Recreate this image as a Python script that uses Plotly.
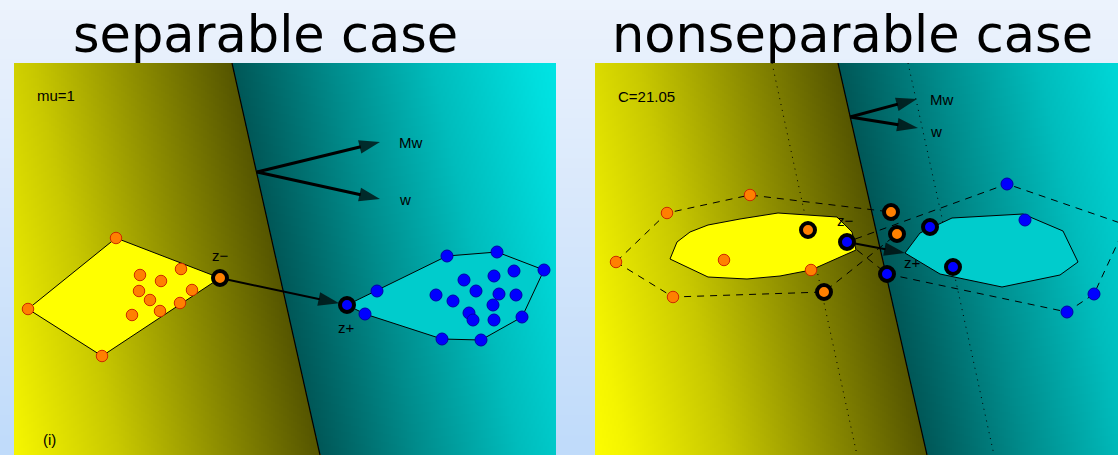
import numpy as np
import plotly.graph_objects as go

W, H = 1118, 455

# ---------------- panel 1: separable case ----------------
sep_neg_u = [1.02, 0.14, 0.88, 1.67, 1.26, 1.47, 1.25, 1.78, 1.36, 1.66, 1.46, 1.18]
sep_neg_v = [2.17, 1.46, 0.99, 1.86, 1.80, 1.74, 1.64, 1.65, 1.55, 1.52, 1.44, 1.40]
sep_pos_u = [3.63, 3.51, 4.33, 4.83, 5.30, 5.08, 4.67, 4.28, 4.50, 4.80, 5.00,
             4.22, 4.39, 4.62, 4.85, 5.02, 4.79, 4.55, 4.59, 4.80]
sep_pos_v = [1.64, 1.41, 1.99, 2.03, 1.85, 1.38, 1.15, 1.16, 1.75, 1.79, 1.84,
             1.60, 1.54, 1.64, 1.61, 1.60, 1.50, 1.42, 1.35, 1.35]
sep_zminus = [2.06, 1.77]
sep_zplus = [3.33, 1.50]
sep_boundary_u = [2.18, 3.06]          # boundary crossing at top / bottom of view
sep_w_origin = [2.43, 2.83]
sep_Mw_tip = [3.66, 3.13]
sep_w_tip = [3.66, 2.56]
sep_view = [5.42, 3.92]

# ---------------- panel 2: nonseparable case ----------------
non_neg_u = [1.55, 0.72, 0.21, 0.78, 1.29, 2.16]
non_neg_v = [2.60, 2.42, 1.93, 1.58, 1.95, 1.85]
non_neg_sv_u = [2.13, 2.29, 2.96, 3.02]
non_neg_sv_v = [2.25, 1.63, 2.43, 2.21]
non_pos_u = [4.12, 4.30, 4.99, 4.72, 5.31]
non_pos_v = [2.71, 2.35, 1.61, 1.43, 2.30]
non_pos_sv_u = [2.52, 2.92, 3.35, 3.58]
non_pos_sv_v = [2.13, 1.81, 2.28, 1.88]
rch_neg_u = [0.75, 0.82, 0.95, 1.13, 1.45, 1.83, 2.42, 2.57, 2.61, 2.16, 1.85, 1.52, 1.13]
rch_neg_v = [1.96, 2.13, 2.23, 2.30, 2.36, 2.42, 2.38, 2.23, 2.05, 1.85, 1.79, 1.76, 1.78]
rch_pos_u = [3.10, 3.25, 3.57, 4.28, 4.68, 4.83, 4.65, 4.07, 3.45]
rch_pos_v = [2.02, 2.22, 2.37, 2.41, 2.24, 1.93, 1.80, 1.68, 1.81]
non_zminus = [2.52, 2.13]
non_zplus = [3.10, 2.02]
non_boundary_u = [2.43, 3.32]
non_margin_lo_u = [1.77, 2.62]
non_margin_hi_u = [3.13, 3.99]
non_w_origin = [2.55, 3.38]
non_Mw_tip = [3.22, 3.56]
non_w_tip = [3.23, 3.27]
non_view = [5.23, 3.92]

ORANGE, ORANGE_EDGE = "#ff8000", "#cc2a00"
BLUE, BLUE_EDGE = "#0000ff", "#0000a8"

# decision-value colour map: yellow side -> dark olive | dark teal -> cyan side
ZLIM = 3.4
stops = [(-3.4, "#ffff00"), (-3.0, "#f4f400"), (-2.0, "#c8c800"), (-1.0, "#8e8e00"),
         (0.0, "#555500"), (0.0001, "#005757"), (1.0, "#008c8c"), (2.0, "#00bcbc"),
         (3.0, "#00dede"), (3.4, "#00e8e8")]
colorscale = [[(z + ZLIM) / (2 * ZLIM), c] for z, c in stops]


def convex_hull(us, vs):
    pts = sorted(set(zip(us, vs)))

    def cross(o, a, b):
        return (a[0] - o[0]) * (b[1] - o[1]) - (a[1] - o[1]) * (b[0] - o[0])

    lower, upper = [], []
    for p in pts:
        while len(lower) >= 2 and cross(lower[-2], lower[-1], p) <= 0:
            lower.pop()
        lower.append(p)
    for p in reversed(pts):
        while len(upper) >= 2 and cross(upper[-2], upper[-1], p) <= 0:
            upper.pop()
        upper.append(p)
    hull = lower[:-1] + upper[:-1]
    hull.append(hull[0])
    return [p[0] for p in hull], [p[1] for p in hull]


def decision_field(view, boundary, step=0.02):
    gx = np.arange(0, view[0] + step, step)
    gy = np.arange(0, view[1] + step, step)
    X, Y = np.meshgrid(gx, gy)
    edge = boundary[1] + (boundary[0] - boundary[1]) * Y / view[1]
    return np.round(gx, 3), np.round(gy, 3), np.round(X - edge, 3)


def field_trace(view, boundary, xa, ya):
    gx, gy, z = decision_field(view, boundary)
    return go.Heatmap(x=gx, y=gy, z=z, colorscale=colorscale, zmin=-ZLIM, zmax=ZLIM,
                      showscale=False, hoverinfo="skip", xaxis=xa, yaxis=ya)


def vline(view, us, xa, ya, dash="solid", width=1.2):
    return go.Scatter(x=us, y=[view[1], 0], mode="lines",
                      line=dict(color="black", width=width, dash=dash),
                      hoverinfo="skip", xaxis=xa, yaxis=ya)


def polygon(us, vs, xa, ya, fill=None, dash="solid"):
    us, vs = list(us), list(vs)
    if (us[0], vs[0]) != (us[-1], vs[-1]):
        us.append(us[0]); vs.append(vs[0])
    kw = dict(fill="toself", fillcolor=fill) if fill else {}
    return go.Scatter(x=us, y=vs, mode="lines", line=dict(color="black", width=1, dash=dash),
                      hoverinfo="skip", xaxis=xa, yaxis=ya, **kw)


def arrow(p0, p1, xa, ya, width=3, head=22, standoff=0):
    return go.Scatter(x=[p0[0], p1[0]], y=[p0[1], p1[1]], mode="lines+markers",
                      line=dict(color="black", width=width),
                      marker=dict(symbol=["circle", "arrow"], size=[0, head], color="black",
                                  angleref="previous", standoff=[0, standoff],
                                  line=dict(width=0)),
                      hoverinfo="skip", xaxis=xa, yaxis=ya)


def points(us, vs, xa, ya, color, edge, size=11.5):
    return go.Scatter(x=us, y=vs, mode="markers",
                      marker=dict(color=color, size=size, line=dict(color=edge, width=1)),
                      hoverinfo="skip", xaxis=xa, yaxis=ya)


def support(us, vs, xa, ya, color):
    return go.Scatter(x=us, y=vs, mode="markers",
                      marker=dict(color=color, size=14, line=dict(color="black", width=4)),
                      hoverinfo="skip", xaxis=xa, yaxis=ya)


traces = []

# separable panel
all_neg_u = sep_neg_u + [sep_zminus[0]]
all_neg_v = sep_neg_v + [sep_zminus[1]]
all_pos_u = sep_pos_u + [sep_zplus[0]]
all_pos_v = sep_pos_v + [sep_zplus[1]]
traces += [
    field_trace(sep_view, sep_boundary_u, "x", "y"),
    vline(sep_view, sep_boundary_u, "x", "y"),
    polygon(*convex_hull(all_neg_u, all_neg_v), "x", "y", fill="#ffff00"),
    polygon(*convex_hull(all_pos_u, all_pos_v), "x", "y", fill="#00cccc"),
    arrow(sep_w_origin, sep_Mw_tip, "x", "y"),
    arrow(sep_w_origin, sep_w_tip, "x", "y"),
    arrow(sep_zminus, sep_zplus, "x", "y", width=2, head=22, standoff=8),
    points(sep_neg_u, sep_neg_v, "x", "y", ORANGE, ORANGE_EDGE),
    points(sep_pos_u, sep_pos_v, "x", "y", BLUE, BLUE_EDGE, size=12),
    support([sep_zminus[0]], [sep_zminus[1]], "x", "y", ORANGE),
    support([sep_zplus[0]], [sep_zplus[1]], "x", "y", BLUE),
]

# nonseparable panel
traces += [
    field_trace(non_view, non_boundary_u, "x2", "y2"),
    vline(non_view, non_margin_lo_u, "x2", "y2", dash="1px,5px", width=1),
    vline(non_view, non_margin_hi_u, "x2", "y2", dash="1px,5px", width=1),
    vline(non_view, non_boundary_u, "x2", "y2"),
    polygon(rch_neg_u, rch_neg_v, "x2", "y2", fill="#ffff00"),
    polygon(rch_pos_u, rch_pos_v, "x2", "y2", fill="#00cccc"),
    polygon(*convex_hull(non_neg_u + non_neg_sv_u, non_neg_v + non_neg_sv_v), "x2", "y2",
            dash="7px,6px"),
    polygon(*convex_hull(non_pos_u + non_pos_sv_u, non_pos_v + non_pos_sv_v), "x2", "y2",
            dash="7px,6px"),
    arrow(non_w_origin, non_Mw_tip, "x2", "y2"),
    arrow(non_w_origin, non_w_tip, "x2", "y2"),
    arrow(non_zminus, non_zplus, "x2", "y2", width=2, head=22),
    points(non_neg_u, non_neg_v, "x2", "y2", ORANGE, ORANGE_EDGE),
    points(non_pos_u, non_pos_v, "x2", "y2", BLUE, BLUE_EDGE, size=12),
    support(non_neg_sv_u, non_neg_sv_v, "x2", "y2", ORANGE),
    support(non_pos_sv_u, non_pos_sv_v, "x2", "y2", BLUE),
]

fig = go.Figure(traces)

# slide background: soft vertical gradient
top_rgb, bot_rgb = np.array([236, 243, 253]), np.array([192, 219, 250])
n_bands = 46
shapes = []
for i in range(n_bands):
    t = i / (n_bands - 1)
    r, g, b = (top_rgb + (bot_rgb - top_rgb) * t).astype(int)
    shapes.append(dict(type="rect", xref="paper", yref="paper", x0=0, x1=1,
                       y1=1 - i / n_bands, y0=1 - (i + 1) / n_bands - 0.002,
                       fillcolor=f"rgb({r},{g},{b})", line=dict(width=0), layer="below"))

LBL = dict(family="Liberation Sans, Arial, sans-serif", size=15, color="black")


def label(text, u, v, xa, ya, xanchor="center"):
    return dict(text=text, x=u, y=v, xref=xa, yref=ya, showarrow=False,
                xanchor=xanchor, yanchor="middle", font=LBL)


annotations = [
    label("mu=1", 0.21, 3.59, "x", "y", "left"),
    label("Mw", 3.83, 3.12, "x", "y", "left"),
    label("w", 3.83, 2.55, "x", "y", "left"),
    label("z\u2212", 2.06, 1.99, "x", "y"),
    label("z+", 3.32, 1.28, "x", "y"),
    label("(i)", 0.27, 0.16, "x", "y", "left"),
    label("C=21.05", 0.21, 3.58, "x2", "y2", "left"),
    label("Mw", 3.33, 3.55, "x2", "y2", "left"),
    label("w", 3.33, 3.23, "x2", "y2", "left"),
    label("z\u2212", 2.50, 2.34, "x2", "y2"),
    label("z+", 3.17, 1.93, "x2", "y2"),
]
TITLE = dict(family="DejaVu Sans, Verdana, sans-serif", size=51, color="black")
for text, xc in [("separable case", 265), ("nonseparable case", 852)]:
    annotations.append(dict(text=text, x=xc / W, y=1 - 35 / H, xref="paper", yref="paper",
                            showarrow=False, xanchor="center", yanchor="middle", font=TITLE))

panel_h = (H - 63) / H
fig.update_layout(
    width=W, height=H, margin=dict(l=0, r=0, t=0, b=0),
    paper_bgcolor="#dde9fb", plot_bgcolor="rgba(0,0,0,0)",
    showlegend=False, shapes=shapes, annotations=annotations,
    xaxis=dict(domain=[14 / W, 556 / W], range=[0, sep_view[0]], visible=False, anchor="y"),
    yaxis=dict(domain=[0, panel_h], range=[0, sep_view[1]], visible=False, anchor="x"),
    xaxis2=dict(domain=[595 / W, 1], range=[0, non_view[0]], visible=False, anchor="y2"),
    yaxis2=dict(domain=[0, panel_h], range=[0, non_view[1]], visible=False, anchor="x2"),
)

fig.write_html("out.html")
